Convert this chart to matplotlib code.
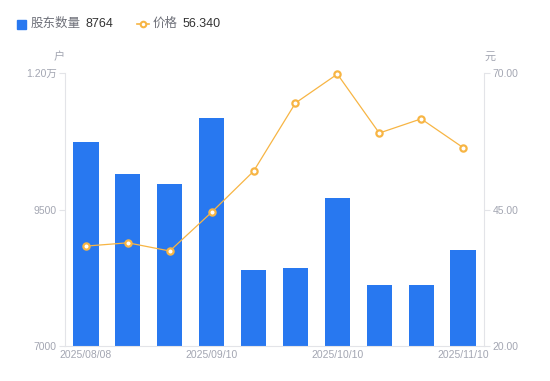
import matplotlib.pyplot as plt
import numpy as np

plt.rcParams['font.family'] = ['Liberation Sans', 'Noto Sans CJK SC', 'DejaVu Sans']

dates = ['2025/08/08', '2025/08/20', '2025/08/31', '2025/09/10', '2025/09/19',
         '2025/09/30', '2025/10/10', '2025/10/20', '2025/10/31', '2025/11/10']
holders = [10740, 10150, 9970, 11180, 8390, 8430, 9710, 8120, 8110, 8764]
price = [38.3, 38.9, 37.4, 44.5, 52.0, 64.5, 69.8, 59.0, 61.6, 56.34]
tick_idx = [0, 3, 6, 9]

bar_color = '#2878f0'
line_color = '#f7b544'
grey = '#a3a6b2'
axis_grey = '#e3e4e8'

fig = plt.figure(figsize=(5.5, 3.81), dpi=100)
ax = fig.add_axes([65/550, 35/381, 419/550, 273/381])
ax2 = ax.twinx()

x = np.arange(len(dates))
ax.bar(x, holders, width=0.6, color=bar_color, zorder=2)
ax.set_xlim(-0.5, len(dates) - 0.5)
ax.set_ylim(7000, 12000)
ax.set_yticks([7000, 9500, 12000])
ax.set_yticklabels(['7000', '9500', '1.20万'])
ax.set_xticks(tick_idx)
ax.set_xticklabels([dates[i] for i in tick_idx])

ax2.plot(x, price, color=line_color, lw=0.9, marker='o', ms=4.5,
         mfc='white', mec=line_color, mew=1.6, zorder=3, clip_on=False)
ax2.set_ylim(20, 70)
ax2.set_yticks([20, 45, 70])
ax2.set_yticklabels(['20.00', '45.00', '70.00'])

for a in (ax, ax2):
    for s in a.spines.values():
        s.set_visible(False)
ax.spines['left'].set_visible(True)
ax.spines['left'].set_color(axis_grey)
ax.spines['bottom'].set_visible(True)
ax.spines['bottom'].set_color(axis_grey)
ax2.spines['right'].set_visible(True)
ax2.spines['right'].set_color(axis_grey)

ax.tick_params(axis='y', colors=axis_grey, labelcolor=grey, labelsize=7.5, length=4, pad=2)
ax.tick_params(axis='x', length=0, labelcolor=grey, labelsize=7.5, pad=3)
ax2.tick_params(axis='y', colors=axis_grey, labelcolor=grey, labelsize=7.5, length=4, pad=2)

# units
fig.text(59/550, 1 - 57/381, '户', color=grey, fontsize=8, ha='center', va='center')
fig.text(490/550, 1 - 57/381, '元', color=grey, fontsize=8, ha='center', va='center')

# legend row
ly = 1 - 24/381
fig.patches.append(plt.Rectangle((17/550, ly - 4.5/381), 9/550, 9/381,
                                 transform=fig.transFigure, color=bar_color))
fig.text(31/550, ly, '股东数量', color='#6e7079', fontsize=9, va='center')
fig.text(85/550, ly, str(holders[-1]), color='#333333', fontsize=9, va='center')
fig.add_artist(plt.Line2D([137/550, 143/550, 149/550], [ly, ly, ly], color=line_color, lw=1.2,
                          marker='o', ms=4, mfc='white', mec=line_color, mew=1.5,
                          markevery=[1], transform=fig.transFigure))
fig.text(153/550, ly, '价格', color='#6e7079', fontsize=9, va='center')
fig.text(183/550, ly, '%.3f' % price[-1], color='#333333', fontsize=9, va='center')

fig.savefig('out.png', dpi=100)
